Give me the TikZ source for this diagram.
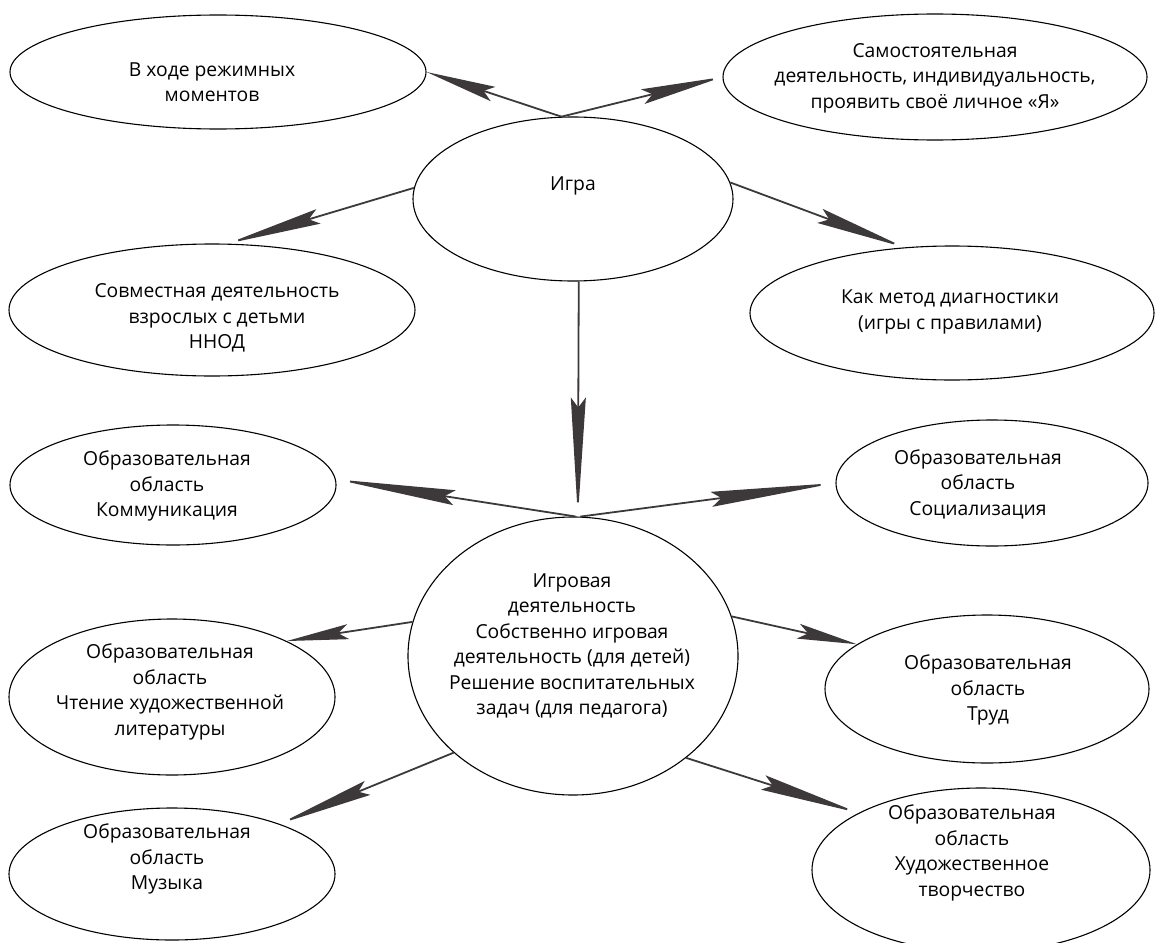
\documentclass[tikz,border=0pt]{standalone}
\usepackage{fontspec}
\setmainfont{Open Sans}
\usetikzlibrary{shapes.geometric,arrows.meta}
\definecolor{arrowgray}{HTML}{3D3839}
\tikzset{
  ell/.style={draw=black, ellipse, inner sep=0pt, line width=1.1pt},
  lbl/.style={align=center, inner sep=0pt, font=\fontsize{19.3}{25.5}\selectfont},
  con/.style={draw=arrowgray, line width=1.8pt, -{Stealth[length=#1, width=15pt, inset=10pt]}}
}
\begin{document}
\begin{tikzpicture}[x=1pt,y=-1pt]
\useasboundingbox (0,0) rectangle (1156,942);
% ellipses
\node[ell, minimum width=416pt, minimum height=114pt] (hod)  at (218,72)  {};
\node[ell, minimum width=424pt, minimum height=126pt] (samo) at (935,77)  {};
\node[ell, minimum width=320pt, minimum height=164pt] (igra) at (573,199) {};
\node[ell, minimum width=406pt, minimum height=132pt] (sovm) at (212,310) {};
\node[ell, minimum width=404pt, minimum height=134pt] (kak)  at (952,313) {};
\node[ell, minimum width=326pt, minimum height=120pt] (komm) at (173,485) {};
\node[ell, minimum width=312pt, minimum height=126pt] (soc)  at (992,483) {};
\node[ell, minimum width=330pt, minimum height=278pt] (cen)  at (573,656) {};
\node[ell, minimum width=326pt, minimum height=156pt] (cht)  at (172,697) {};
\node[ell, minimum width=324pt, minimum height=148pt] (trud) at (987,689) {};
\node[ell, minimum width=326pt, minimum height=132pt] (muz)  at (172,874) {};
\node[ell, minimum width=338pt, minimum height=164pt] (hud)  at (981,870) {};
% texts
\node[lbl] (thod)  at (212,82)  {В ходе режимных\\моментов};
\node[lbl] (tsamo) at (935,78)  {Самостоятельная\\деятельность, индивидуальность,\\проявить своё личное «Я»};
\node[lbl] (tigra) at (573,186) {Игра};
\node[lbl] (tsovm) at (217,318) {Совместная деятельность\\взрослых с детьми\\ННОД};
\node[lbl] (tkak)  at (950,312) {Как метод диагностики\\(игры с правилами)};
\node[lbl] (tkomm) at (167,486) {Образовательная\\область\\Коммуникация};
\node[lbl] (tsoc)  at (978,484) {Образовательная\\область\\Социализация};
\node[lbl] (tcen)  at (572,646) {Игровая\\деятельность\\Собственно игровая\\деятельность (для детей)\\Решение воспитательных\\задач (для педагога)};
\node[lbl] (tcht)  at (170,692) {Образовательная\\область\\Чтение художественной\\литературы};
\node[lbl] (ttrud) at (988,690) {Образовательная\\область\\Труд};
\node[lbl] (tmuz)  at (167,859) {Образовательная\\область\\Музыка};
\node[lbl] (thud)  at (972,853) {Образовательная\\область\\Художественное\\творчество};
% connectors
\draw[con=70pt]  (igra.98)  -- (hod.0);
\draw[con=82pt]  (igra.98)  -- (samo.180);
\draw[con=95pt]  (igra.176) -- (sovm.77);
\draw[con=90pt]  (igra.6)   -- (kak.126);
\draw[con=119pt] (igra.274) -- (cen.88);
\draw[con=120pt] (cen.89)   -- (komm.2);
\draw[con=125pt] (cen.87)   -- (soc.180);
\draw[con=62pt]  (cen.168)  -- (cht.26);
\draw[con=60pt]  (cen.14)   -- (trud.161);
\draw[con=95pt]  (cen.219)  -- (muz.25);
\draw[con=100pt] (cen.318)  -- (hud.155);
\end{tikzpicture}
\end{document}
